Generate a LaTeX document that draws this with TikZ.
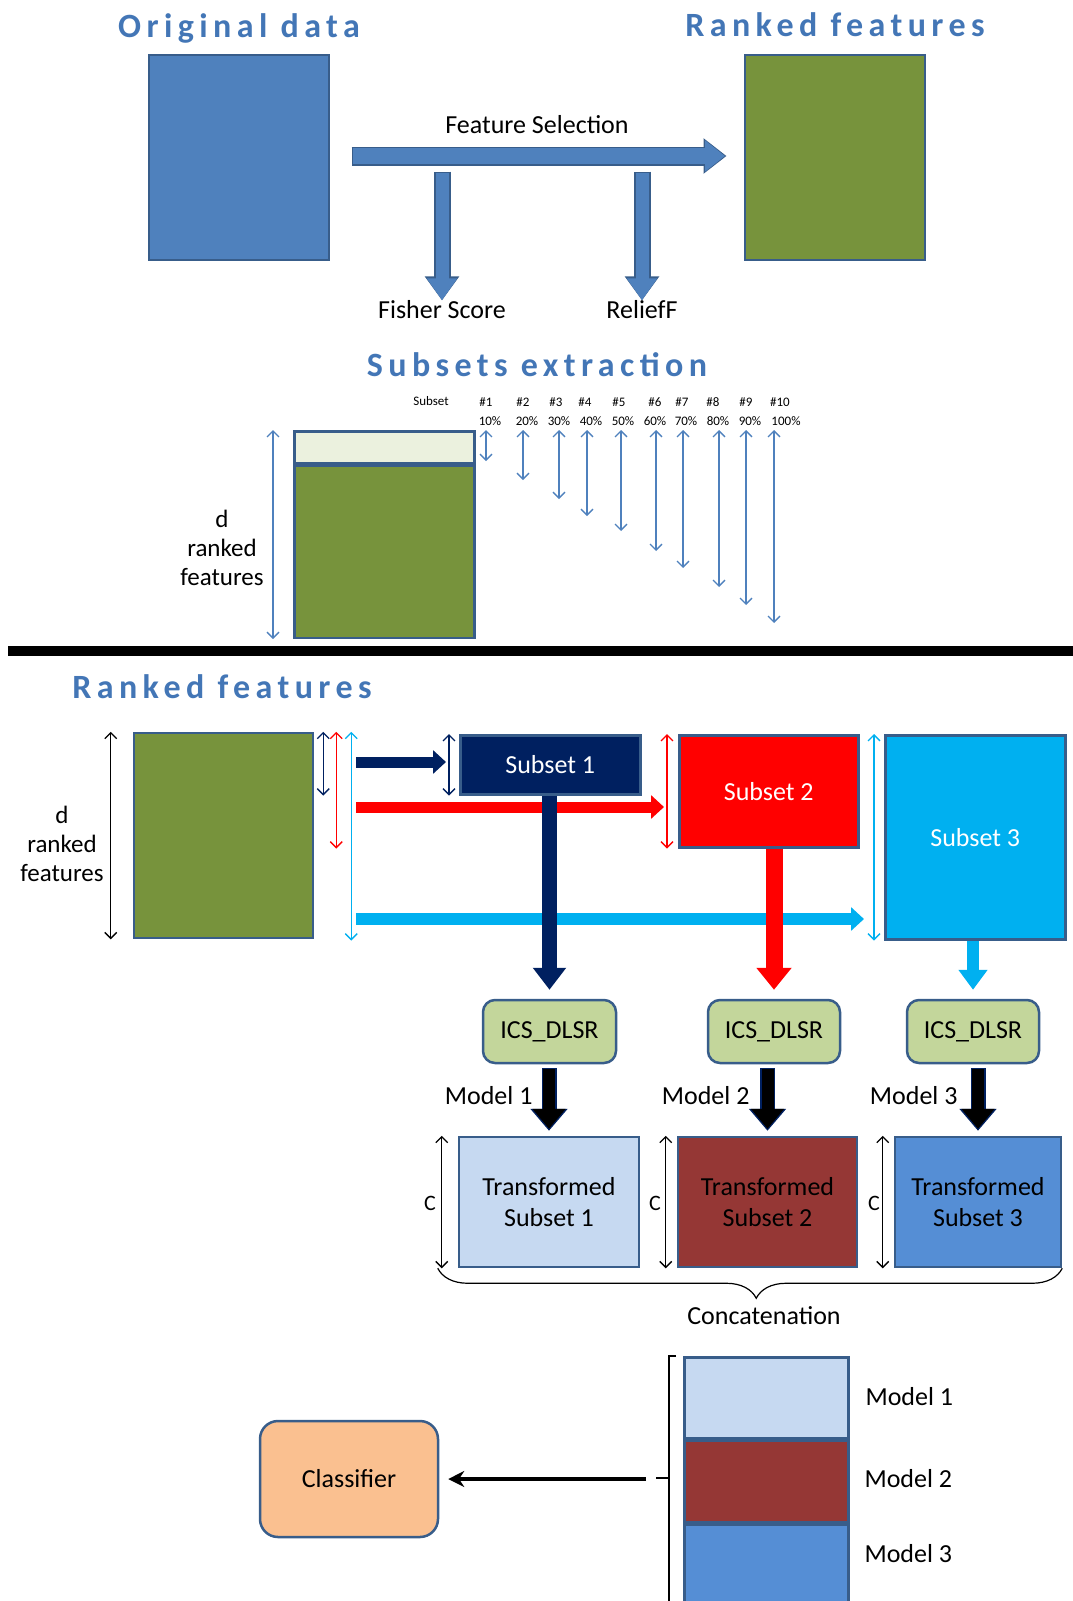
\documentclass[tikz,border=0pt]{standalone}
\usepackage{fontspec}
\setmainfont{Carlito}
\newfontfamily\titlefont{Carlito}[LetterSpace=16]
\usetikzlibrary{arrows.meta,positioning,calc,decorations.pathreplacing}
\definecolor{boxblue}{HTML}{4F81BD}
\definecolor{edgeblue}{HTML}{385D8A}
\definecolor{rankgreen}{HTML}{77933C}
\definecolor{bandgreen}{HTML}{EBF1DE}
\definecolor{navy}{HTML}{002060}
\definecolor{brightred}{HTML}{FF0000}
\definecolor{skyblue}{HTML}{00B0F0}
\definecolor{icsgreen}{HTML}{C3D69B}
\definecolor{trblue}{HTML}{C6D9F1}
\definecolor{trred}{HTML}{953735}
\definecolor{trmid}{HTML}{558ED5}
\definecolor{clsorange}{HTML}{FAC090}
\definecolor{titleblue}{HTML}{4376B6}

\tikzset{
  databox/.style={draw=edgeblue, line width=2.5pt, inner sep=0pt, align=center},
  roundbox/.style={databox, rounded corners=12pt},
  title/.style={font=\titlefont\bfseries\fontsize{34}{40}\selectfont, text=titleblue},
  smalltext/.style={font=\fontsize{13}{15}\selectfont, inner sep=0pt},
  dimarrow/.style={{Straight Barb[length=6pt,width=12pt]}-{Straight Barb[length=6pt,width=12pt]}, line width=1.3pt},
  bigflow/.style={line width=16pt, -{Triangle[length=20pt,width=30pt]}},
  flow/.style={line width=11pt, -{Triangle[length=13pt,width=23pt]}},
  downflow/.style={line width=15pt, -{Triangle[length=22pt,width=32pt]}},
  modelflow/.style={line width=12pt, -{Triangle[length=20pt,width=32pt]}}
}

\begin{document}
\begin{tikzpicture}[x=1pt, y=-1pt, font=\fontsize{26}{31}\selectfont]
  \useasboundingbox (0,0) rectangle (1073,1601);

  % ---------------- feature selection ----------------
  \node[title] (ttlorig) at (239,28) {Original data};
  \node[title] (ttlrank) at (835,25) {Ranked features};

  \node[databox, fill=boxblue, minimum width=180pt, minimum height=205pt] (orig) at (239,157.5) {};
  \node[databox, fill=rankgreen, minimum width=180pt, minimum height=205pt] (ranked) at (835,157.5) {};

  \node (fslabel) at (537,125) {Feature Selection};
  \coordinate (fsstart) at (353,156);
  \coordinate (fsend) at (725,156);
  \draw[bigflow, edgeblue, line width=19pt, -{Triangle[length=23pt,width=34pt]}] ([xshift=-1.5pt]fsstart) -- ([xshift=1.5pt]fsend);
  \draw[bigflow, boxblue] (fsstart) -- (fsend);

  \node (fisher) at (442,310) {Fisher Score};
  \node (relief) at (642,310) {ReliefF};
  \coordinate (fisherfork) at (442,173);
  \coordinate (relieffork) at (642,173);
  \foreach \m in {fisher,relief} {
    \draw[downflow, edgeblue, line width=17pt, -{Triangle[length=24pt,width=33pt]}] ([yshift=1.5pt]\m fork) -- ([yshift=-3pt]\m.north);
    \draw[downflow, boxblue, line width=13pt, -{Triangle[length=22pt,width=29pt]}] (\m fork) -- ([yshift=-3pt]\m.north);
  }

  % ---------------- subsets extraction ----------------
  \node[title] (ttlsub) at (537,365) {Subsets extraction};

  \node[databox, fill=bandgreen, minimum width=180pt, minimum height=32pt, anchor=north west] (band) at (293,430) {};
  \node[databox, fill=rankgreen, minimum width=180pt, minimum height=172pt, anchor=north] (bandrest) at (band.south) {};
  \draw[dimarrow, boxblue] ([xshift=-20pt]band.north west) -- ([xshift=-20pt]bandrest.south west);
  \node[align=center, font=\fontsize{25}{29}\selectfont] (dlabelA) at (222,548) {d\\ranked\\features};

  \node[smalltext] (subsetlbl) at (431,401) {Subset};
  \foreach \i/\xl/\xp/\xa/\yb in {1/486/490/486/461, 2/523/527/523/480, 3/556/559/559/499,
      4/585/591/587/516, 5/619/623/621/531, 6/655/655/656/551, 7/682/686/683/568,
      8/713/718/719/587, 9/746/750/746/605, 10/780/786/774/623} {
    \node[smalltext] (num\i) at (\xl,402) {\#\i};
    \node[smalltext] (pct\i) at (\xp,421) {\the\numexpr\i*10\relax\%};
    \coordinate (top\i) at (\xa,430);
    \coordinate (bot\i) at (\xa,\yb);
    \draw[dimarrow, boxblue] (top\i) -- (bot\i);
  }

  \draw[line width=10pt] (8,651) -- (1073,651);

  % ---------------- subsets and models ----------------
  \node[title] (ttlrankb) at (222,687) {Ranked features};

  \node[databox, fill=rankgreen, minimum width=179pt, minimum height=205pt] (rankedB) at (223.5,835.5) {};
  \draw[dimarrow] ([xshift=-22pt]rankedB.north west) -- ([xshift=-22pt]rankedB.south west);
  \node[align=center, font=\fontsize{25}{29}\selectfont] (dlabelB) at (62,844) {d\\ranked\\features};

  \node[databox, fill=navy, text=white, minimum width=180pt, minimum height=59pt, anchor=north west] (sub1) at (459,734) {Subset 1};
  \node[databox, fill=brightred, text=white, minimum width=179pt, minimum height=112pt, anchor=north west] (sub2) at (678,734) {Subset 2};
  \node[databox, fill=skyblue, text=white, minimum width=180pt, minimum height=204pt, anchor=north west] (sub3) at (884,734) {Subset 3};

  \draw[dimarrow, navy] ([xshift=9pt]rankedB.north east) -- ([xshift=9pt]rankedB.north east |- sub1.south);
  \draw[dimarrow, brightred] ([xshift=22pt]rankedB.north east) -- ([xshift=22pt]rankedB.north east |- sub2.south);
  \draw[dimarrow, skyblue] ([xshift=37pt]rankedB.north east) -- ([xshift=37pt]rankedB.north east |- sub3.south);

  \draw[dimarrow, navy] ([xshift=-10pt]sub1.north west) -- ([xshift=-10pt]sub1.south west);
  \draw[dimarrow, brightred] ([xshift=-11pt]sub2.north west) -- ([xshift=-11pt]sub2.south west);
  \draw[dimarrow, skyblue] ([xshift=-10pt]sub3.north west) -- ([xshift=-10pt]sub3.south west);

  \coordinate (fl1) at (356,762);
  \coordinate (fl2) at (356,807);
  \coordinate (fl3) at (356,919);
  \draw[flow, navy, shorten >=13pt] (fl1) -- (fl1 -| sub1.west);
  \draw[flow, brightred, shorten >=14pt] (fl2) -- (fl2 -| sub2.west);
  \draw[flow, skyblue, line width=12pt, shorten >=20pt] (fl3) -- (fl3 -| sub3.west);

  \node[roundbox, fill=icsgreen, minimum width=133pt, minimum height=63pt] (ics1) at (549.5,1031.5) {ICS\_DLSR};
  \node[roundbox, fill=icsgreen, minimum width=132pt, minimum height=63pt] (ics2) at (774,1031.5) {ICS\_DLSR};
  \node[roundbox, fill=icsgreen, minimum width=132pt, minimum height=63pt] (ics3) at (973,1031.5) {ICS\_DLSR};

  \draw[downflow, navy, shorten >=9pt] (ics1.north |- sub1.south) -- (ics1.north);
  \draw[downflow, brightred, line width=17pt, -{Triangle[length=22pt,width=34pt]}, shorten >=9pt] (ics2.north |- sub2.south) -- (ics2.north);
  \draw[downflow, skyblue, line width=12pt, -{Triangle[length=20pt,width=28pt]}, shorten >=9pt] (ics3.north |- sub3.south) -- (ics3.north);

  \node[databox, fill=trblue, minimum width=180pt, minimum height=130pt] (tr1) at (549,1202) {Transformed\\Subset 1};
  \node[databox, fill=trred, minimum width=179pt, minimum height=130pt] (tr2) at (767.5,1202) {Transformed\\Subset 2};
  \node[databox, fill=trmid, minimum width=166pt, minimum height=130pt] (tr3) at (978,1202) {Transformed\\Subset 3};

  \foreach \k in {1,2,3} {
    \draw[modelflow, navy, line width=15pt, -{Triangle[length=22pt,width=36pt]}, shorten <=4pt, shorten >=5pt] (tr\k.north |- ics\k.south) -- (tr\k.north);
    \draw[modelflow, black, shorten <=5pt, shorten >=7pt] (tr\k.north |- ics\k.south) -- (tr\k.north);
  }
  \node[anchor=east] (mlab1) at (536,1096) {Model 1};
  \node[anchor=east] (mlab2) at (753,1096) {Model 2};
  \node[anchor=east] (mlab3) at (961,1096) {Model 3};

  \draw[dimarrow, black] ([xshift=-16pt]tr1.north west) -- ([xshift=-16pt]tr1.south west);
  \draw[dimarrow, black] ([xshift=-11pt]tr2.north west) -- ([xshift=-11pt]tr2.south west);
  \draw[dimarrow, black] ([xshift=-11pt]tr3.north west) -- ([xshift=-11pt]tr3.south west);
  \node[font=\fontsize{22}{26}\selectfont] (cA) at (430,1203) {C};
  \node[font=\fontsize{22}{26}\selectfont] (cB) at (655,1203) {C};
  \node[font=\fontsize{22}{26}\selectfont] (cC) at (874,1203) {C};

  \draw[decorate, decoration={brace, amplitude=30pt, mirror, aspect=0.51}, line width=1.2pt]
    ([xshift=-20pt]tr1.south west) -- (tr3.south east);
  \node (concat) at (764,1316) {Concatenation};

  % ---------------- concatenated output ----------------
  \node[databox, fill=trblue, minimum width=164pt, minimum height=81pt, anchor=north west] (cat1) at (683,1356) {};
  \node[databox, fill=trred, minimum width=164pt, minimum height=81pt, below=0pt of cat1] (cat2) {};
  \node[databox, fill=trmid, minimum width=164pt, minimum height=90pt, below=0pt of cat2] (cat3) {};
  \node[anchor=west] (clab1) at (862,1397) {Model 1};
  \node[anchor=west] (clab2) at (861,1479) {Model 2};
  \node[anchor=west] (clab3) at (861,1554) {Model 3};

  \coordinate (brktop) at (669,1356);
  \coordinate (brkmid) at (669,1478);
  \draw[line width=2.5pt] ([xshift=7pt]brktop) -- (brktop) -- (669,1606);
  \draw[line width=2.5pt] (brkmid) -- ++(-13,0) coordinate (brktick);

  \node[roundbox, fill=clsorange, rounded corners=18pt, minimum width=178pt, minimum height=116pt] (cls) at (349,1479) {Classifier};
  \coordinate (catout) at (646,1479);
  \draw[line width=3.5pt, -{Stealth[length=16pt,width=16pt]}, shorten >=9pt] (catout) -- (cls.east);
\end{tikzpicture}
\end{document}
